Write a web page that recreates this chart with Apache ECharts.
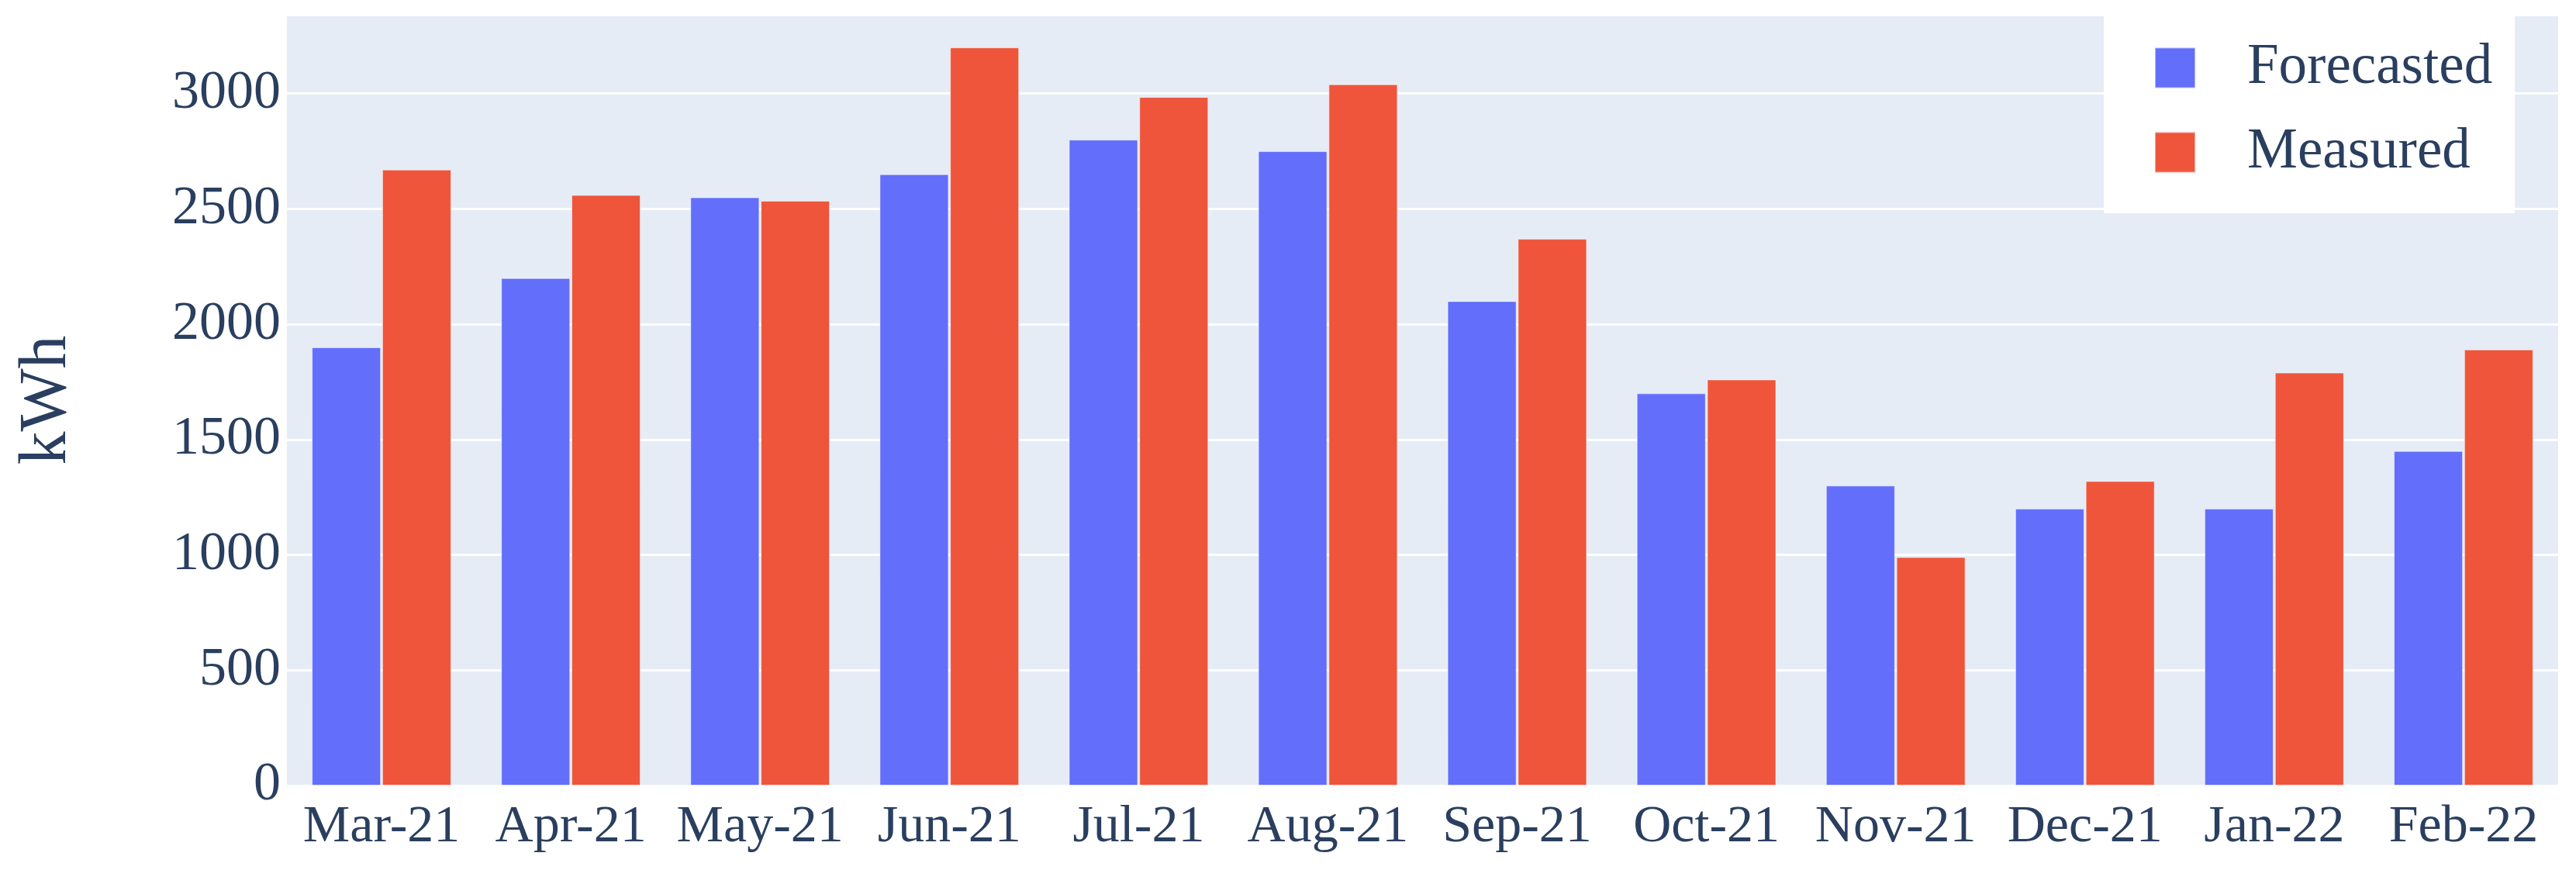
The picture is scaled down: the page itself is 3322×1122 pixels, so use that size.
<!DOCTYPE html>
<html>
<head>
<meta charset="utf-8">
<script src="https://cdn.jsdelivr.net/npm/echarts@6/dist/echarts.min.js"></script>
<style>
html,body{margin:0;padding:0;background:#fff;}
#chart{width:3322px;height:1122px;}
</style>
</head>
<body>
<div id="chart"></div>
<script>
var categories = ['Mar-21','Apr-21','May-21','Jun-21','Jul-21','Aug-21','Sep-21','Oct-21','Nov-21','Dec-21','Jan-22','Feb-22'];
var forecasted = [1900, 2200, 2550, 2650, 2800, 2750, 2100, 1700, 1300, 1200, 1200, 1450];
var measured   = [2670, 2560, 2535, 3200, 2985, 3040, 2370, 1760, 990, 1320, 1790, 1890];
var yTicks = { min: 0, max: 3342, interval: 500 };
var yName = 'kWh';
var seriesNames = ['Forecasted', 'Measured'];

var FONT = '"Liberation Serif", "Times New Roman", serif';
var TXT = '#2a3f5f';

var chart = echarts.init(document.getElementById('chart'), null, {renderer: 'canvas'});
chart.setOption({
  animation: false,
  backgroundColor: '#ffffff',
  textStyle: { fontFamily: FONT, color: TXT },
  grid: {
    left: 370, right: 23, top: 19, bottom: 109,
    show: true, backgroundColor: '#E5ECF6', borderWidth: 0
  },
  legend: {
    orient: 'vertical',
    left: 2713, top: 19,
    backgroundColor: '#ffffff',
    padding: [32, 29, 42, 65],
    itemWidth: 52, itemHeight: 52,
    itemGap: 36,
    icon: 'rect',
    textStyle: { fontFamily: FONT, fontSize: 73, color: TXT, lineHeight: 73, padding: [0, 0, 0, 62] },
    data: seriesNames
  },
  xAxis: {
    type: 'category',
    data: categories,
    axisLine: { show: false },
    axisTick: { show: false },
    axisLabel: { fontFamily: FONT, fontSize: 68, color: TXT, margin: 20, interval: 0 },
    splitLine: { show: false }
  },
  yAxis: {
    type: 'value',
    min: yTicks.min, max: yTicks.max, interval: yTicks.interval,
    name: yName,
    nameLocation: 'middle',
    nameRotate: 90,
    nameGap: 266,
    nameTextStyle: { fontFamily: FONT, fontSize: 86, color: TXT },
    axisLine: { show: false },
    axisTick: { show: false },
    axisLabel: {
      fontFamily: FONT, fontSize: 70, color: TXT, margin: 8, showMaxLabel: false,
      formatter: function (v) { return String(v); }
    },
    splitLine: { show: true, lineStyle: { color: '#ffffff', width: 3 } }
  },
  series: [
    {
      name: seriesNames[0], type: 'bar', data: forecasted,
      barWidth: 89, barGap: '2%',
      itemStyle: { color: '#636EFA', borderColor: 'rgba(255,255,255,0.5)', borderWidth: 1 }
    },
    {
      name: seriesNames[1], type: 'bar', data: measured,
      barWidth: 89, barGap: '2%',
      itemStyle: { color: '#EF553B', borderColor: 'rgba(255,255,255,0.5)', borderWidth: 1 }
    }
  ]
});
</script>
</body>
</html>
